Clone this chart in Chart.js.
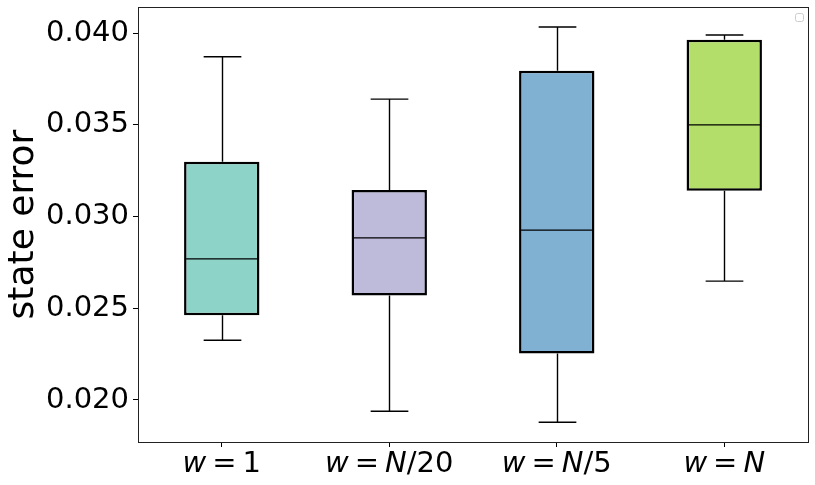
<!DOCTYPE html>
<html>
<head>
<meta charset="utf-8">
<script src="https://cdn.jsdelivr.net/npm/chart.js@4"></script>
<style>
  html, body { margin: 0; padding: 0; background: #fff; }
  #wrap { width: 815px; height: 485px; }
</style>
</head>
<body>
<div id="wrap"><canvas id="boxChart"></canvas></div>
<script>
// box plot values
const labels = ['w = 1', 'w = N/20', 'w = N/5', 'w = N'];
const positions = [1, 2, 3, 4];
const whiskerLow = [0.02326, 0.01939, 0.01879, 0.02648];
const q1 = [0.02462, 0.02569, 0.02253, 0.0314];
const median = [0.02769, 0.02884, 0.02926, 0.0350];
const q3 = [0.03298, 0.03144, 0.03794, 0.03963];
const whiskerHigh = [0.03871, 0.0364, 0.04033, 0.03989];
const colors = ['#8dd3c7', '#bebada', '#80b1d3', '#b3de69'];
const yTicks = [0.020, 0.025, 0.030, 0.035, 0.040];

const FONT = "'DejaVu Sans', sans-serif";

// whiskers, caps, medians, frame and the math-style x labels
const boxExtras = {
  id: 'boxExtras',
  beforeDatasetsDraw(chart) {
    const { ctx, scales: { x, y } } = chart;
    const capHalf = (x.getPixelForValue(1.1125) - x.getPixelForValue(1));
    ctx.save();
    ctx.strokeStyle = '#000';
    ctx.lineWidth = 1.4;
    positions.forEach((p, i) => {
      const px = Math.round(x.getPixelForValue(p)) + 0.5;
      const lo = y.getPixelForValue(whiskerLow[i]);
      const hi = y.getPixelForValue(whiskerHigh[i]);
      ctx.beginPath();
      ctx.moveTo(px, y.getPixelForValue(q1[i]));
      ctx.lineTo(px, lo);
      ctx.moveTo(px, y.getPixelForValue(q3[i]));
      ctx.lineTo(px, hi);
      ctx.moveTo(px - capHalf, lo);
      ctx.lineTo(px + capHalf, lo);
      ctx.moveTo(px - capHalf, hi);
      ctx.lineTo(px + capHalf, hi);
      ctx.stroke();
    });
    ctx.restore();
  },
  afterDatasetsDraw(chart) {
    const { ctx, chartArea: a, scales: { x, y } } = chart;
    const boxHalf = (x.getPixelForValue(1.225) - x.getPixelForValue(1));
    ctx.save();
    ctx.strokeStyle = '#000';
    ctx.lineWidth = 1.2;
    positions.forEach((p, i) => {
      const px = x.getPixelForValue(p);
      const my = y.getPixelForValue(median[i]);
      ctx.beginPath();
      ctx.moveTo(px - boxHalf + 2, my);
      ctx.lineTo(px + boxHalf - 2, my);
      ctx.stroke();
    });

    // axes frame
    ctx.strokeStyle = '#222';
    ctx.lineWidth = 1;
    ctx.strokeRect(Math.round(a.left) + 0.5, Math.round(a.top) + 0.5,
      Math.round(a.right - a.left), Math.round(a.bottom - a.top));

    // empty legend frame in the corner
    ctx.strokeStyle = '#ccc';
    ctx.fillStyle = '#fff';
    ctx.beginPath();
    ctx.roundRect(a.right - 12.5, a.top + 6.5, 8, 8, 2);
    ctx.fill();
    ctx.stroke();

    // x labels with italic variables
    ctx.fillStyle = '#000';
    ctx.textBaseline = 'alphabetic';
    const size = 29;
    const upright = size + 'px ' + FONT;
    const italic = 'italic ' + size + 'px ' + FONT;
    labels.forEach((lab, i) => {
      const parts = [];
      lab.replace(/\s+/g, '').split('').forEach(ch => {
        const it = /[a-zA-Z]/.test(ch);
        parts.push({ ch, font: it ? italic : upright, gap: ch === '=' ? 6 : 0 });
      });
      let total = 0;
      parts.forEach(pt => {
        ctx.font = pt.font;
        pt.w = ctx.measureText(pt.ch).width;
        total += pt.w + 2 * pt.gap;
      });
      let cx = x.getPixelForValue(positions[i]) - total / 2;
      parts.forEach(pt => {
        ctx.font = pt.font;
        cx += pt.gap;
        ctx.fillText(pt.ch, cx, 472);
        cx += pt.w + pt.gap;
      });
    });
    ctx.restore();
  }
};

const ctx = document.getElementById('boxChart').getContext('2d');
new Chart(ctx, {
  type: 'bar',
  data: {
    datasets: [{
      label: 'box',
      data: positions.map((p, i) => ({ x: p, y: [q1[i], q3[i]] })),
      backgroundColor: colors,
      borderColor: '#000',
      borderWidth: 2.5,
      borderSkipped: false,
      barPercentage: 0.45,
      categoryPercentage: 1
    }]
  },
  options: {
    responsive: true,
    maintainAspectRatio: false,
    animation: false,
    layout: { padding: { top: 7, right: 7, left: 0, bottom: 0 } },
    plugins: {
      legend: { display: false },
      tooltip: { enabled: false }
    },
    scales: {
      x: {
        type: 'linear',
        min: 0.5,
        max: 4.5,
        offset: false,
        afterBuildTicks: scale => { scale.ticks = positions.map(v => ({ value: v })); },
        afterFit: scale => {
          scale.height = 43;
          scale.paddingLeft = 0;
          scale.paddingRight = 0;
        },
        grid: { offset: false, drawOnChartArea: false, tickLength: 5, tickColor: '#000', tickWidth: 1 },
        border: { display: false },
        ticks: {
          color: 'rgba(0,0,0,0)',
          font: { family: FONT, size: 29 },
          maxRotation: 0,
          callback: v => labels[positions.indexOf(v)]
        }
      },
      y: {
        min: 0.01771,
        max: 0.04142,
        afterBuildTicks: scale => { scale.ticks = yTicks.map(v => ({ value: v })); },
        afterFit: scale => {
          scale.width = 138;
          scale.paddingTop = 0;
          scale.paddingBottom = 0;
        },
        grid: { drawOnChartArea: false, tickLength: 5, tickColor: '#000', tickWidth: 1 },
        border: { display: false },
        ticks: {
          color: '#000',
          padding: 4,
          font: { family: FONT, size: 29 },
          callback: v => v.toFixed(3)
        },
        title: {
          display: true,
          text: 'state error',
          color: '#000',
          font: { family: FONT, size: 36 },
          padding: { top: 2, bottom: 0 }
        }
      }
    }
  },
  plugins: [boxExtras]
});
</script>
</body>
</html>
